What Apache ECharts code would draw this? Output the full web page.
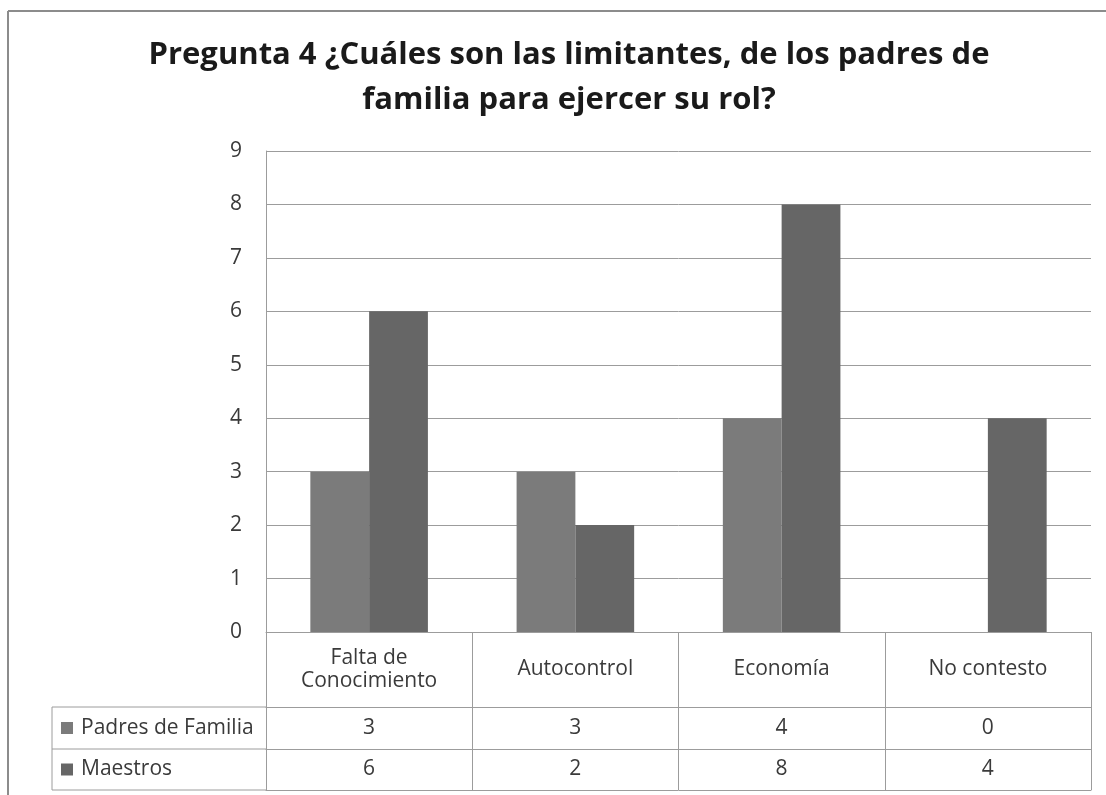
<!DOCTYPE html>
<html>
<head>
<meta charset="utf-8">
<script src="https://cdn.jsdelivr.net/npm/echarts@6/dist/echarts.min.js"></script>
<style>
  html, body { margin: 0; padding: 0; background: #ffffff; }
  #chart { width: 1106px; height: 795px; }
</style>
</head>
<body>
<div id="chart"></div>
<script>
// ---- data ----
const titleText = 'Pregunta 4 ¿Cuáles son las limitantes, de los padres de\nfamilia para ejercer su rol?';
const categories = ['Falta de\nConocimiento', 'Autocontrol', 'Economía', 'No contesto'];
const seriesNames = ['Padres de Familia', 'Maestros'];
const padres = [3, 3, 4, 0];
const maestros = [6, 2, 8, 4];
const yMin = 0, yMax = 9, yStep = 1;

// ---- layout / style ----
const W = 1106, H = 795;
const GRID = { left: 266, right: 15, top: 151, bottom: 163 };
const HEADER_H = 75;            // category row of the data table
const ROW_H = [42, 41];         // one row per series
const LEGEND_LEFT = 52;
const FONT = '"Open Sans"';
const FS = 21;
const LINE = '#9c9c9c';
const TEXT = '#3a3a3a';
const COLORS = ['#7b7b7b', '#666666'];

const zeroY = H - GRID.bottom;
const rowTops = [zeroY + HEADER_H, zeroY + HEADER_H + ROW_H[0]];
const tableBottom = rowTops[1] + ROW_H[1];

const lineStyle = { color: LINE, width: 1 };
const baseXAxis = {
  type: 'category',
  data: categories,
  position: 'bottom',
  axisLine: { show: true, lineStyle },
  axisTick: { show: true, interval: 0, alignWithLabel: false, inside: false, lineStyle },
  splitLine: { show: false }
};

// one category axis per table row: header row, series rows, closing line
const xAxes = [
  Object.assign({}, baseXAxis, {
    axisTick: Object.assign({}, baseXAxis.axisTick, { length: HEADER_H }),
    axisLabel: { interval: 0, margin: HEADER_H / 2, verticalAlign: 'middle', align: 'center',
                 fontFamily: FONT, fontSize: FS, lineHeight: 23, color: TEXT }
  }),
  Object.assign({}, baseXAxis, {
    offset: HEADER_H,
    axisTick: Object.assign({}, baseXAxis.axisTick, { length: ROW_H[0] }),
    axisLabel: { interval: 0, margin: ROW_H[0] / 2, verticalAlign: 'middle', align: 'center',
                 fontFamily: FONT, fontSize: FS, color: TEXT,
                 formatter: (v, i) => String(padres[i]) }
  }),
  Object.assign({}, baseXAxis, {
    offset: HEADER_H + ROW_H[0],
    axisTick: Object.assign({}, baseXAxis.axisTick, { length: ROW_H[1] }),
    axisLabel: { interval: 0, margin: ROW_H[1] / 2, verticalAlign: 'middle', align: 'center',
                 fontFamily: FONT, fontSize: FS, color: TEXT,
                 formatter: (v, i) => String(maestros[i]) }
  }),
  Object.assign({}, baseXAxis, {
    offset: HEADER_H + ROW_H[0] + ROW_H[1],
    axisTick: { show: false },
    axisLabel: { show: false }
  })
];

// legend column of the data table
const legendGraphics = [];
[rowTops[0], rowTops[1], tableBottom].forEach(y => {
  legendGraphics.push({ type: 'line', shape: { x1: LEGEND_LEFT, y1: y, x2: GRID.left, y2: y },
                        style: { stroke: LINE, lineWidth: 1 }, silent: true });
});
legendGraphics.push({ type: 'line', shape: { x1: LEGEND_LEFT, y1: rowTops[0], x2: LEGEND_LEFT, y2: tableBottom },
                      style: { stroke: LINE, lineWidth: 1 }, silent: true });
seriesNames.forEach((name, i) => {
  const cy = rowTops[i] + ROW_H[i] / 2;
  legendGraphics.push({ type: 'rect', shape: { x: LEGEND_LEFT + 9, y: cy - 6, width: 12, height: 12 },
                        style: { fill: COLORS[i] }, silent: true });
  legendGraphics.push({ type: 'text', x: LEGEND_LEFT + 29, y: cy,
                        style: { text: name, fontFamily: FONT, fontSize: FS, fill: TEXT,
                                 textAlign: 'left', textVerticalAlign: 'middle' }, silent: true });
});

// chart frame (left and top edges)
const frame = [
  { type: 'line', shape: { x1: 8, y1: 11, x2: 8, y2: H }, style: { stroke: '#8c8c8c', lineWidth: 2 }, silent: true },
  { type: 'line', shape: { x1: 8, y1: 11, x2: W, y2: 11 }, style: { stroke: '#8c8c8c', lineWidth: 2 }, silent: true }
];

const chart = echarts.init(document.getElementById('chart'), null, { renderer: 'canvas' });
chart.setOption({
  animation: false,
  backgroundColor: '#ffffff',
  title: {
    text: titleText,
    left: 564,
    top: 28,
    textAlign: 'center',
    textStyle: { fontFamily: FONT, fontSize: 31, fontWeight: 'bold', color: '#1a1a1a', lineHeight: 45 }
  },
  grid: Object.assign({ containLabel: false }, GRID),
  xAxis: xAxes,
  yAxis: {
    type: 'value',
    min: yMin, max: yMax, interval: yStep,
    axisLine: { show: true, lineStyle },
    axisTick: { show: false },
    splitLine: { show: true, lineStyle },
    axisLabel: { fontFamily: FONT, fontSize: FS, color: TEXT, margin: 24 }
  },
  series: [
    { name: seriesNames[0], type: 'bar', data: padres, xAxisIndex: 0,
      barGap: '0%', barCategoryGap: '43%', itemStyle: { color: COLORS[0] } },
    { name: seriesNames[1], type: 'bar', data: maestros, xAxisIndex: 0,
      barGap: '0%', barCategoryGap: '43%', itemStyle: { color: COLORS[1] } }
  ],
  graphic: frame.concat(legendGraphics)
});
</script>
</body>
</html>
